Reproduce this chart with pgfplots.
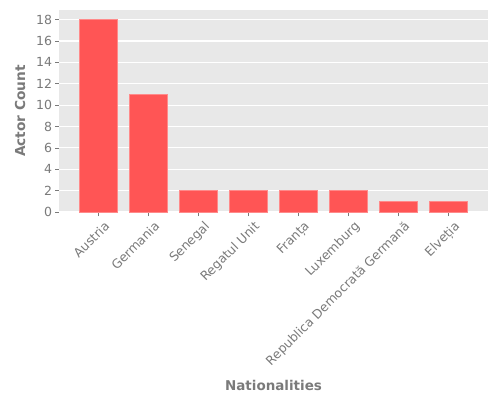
\documentclass[border=0pt]{standalone}
\usepackage{fontspec}
\setmainfont{DejaVu Sans}
\usepackage{pgfplots}
\pgfplotsset{compat=1.18}
\definecolor{bg}{HTML}{E8E8E8}
\definecolor{barc}{HTML}{FF5555}
\definecolor{bare}{HTML}{FF8A8A}
\definecolor{txt}{HTML}{7A7A7A}
\begin{document}
\begin{tikzpicture}
\useasboundingbox (0pt,0pt) rectangle (375pt,300pt);
\begin{axis}[
  at={(44.25pt,141pt)}, anchor=south west,
  scale only axis, width=321.75pt, height=151.5pt,
  xmin=-0.79, xmax=7.79, ymin=0, ymax=18.9,
  axis background/.style={fill=bg},
  axis line style={draw=none},
  ymajorgrids, major grid style={white, line width=0.8pt},
  ytick={0,2,...,18},
  xtick={0,...,7},
  xticklabels={Austria,Germania,Senegal,Regatul Unit,Franța,Luxemburg,Republica Democrată Germană,Elveția},
  tick pos=left, tick align=outside,
  major tick length=3pt,
  tick style={txt, line width=0.5pt},
  /pgf/number format/assume math mode=true,
  ticklabel style={font=\fontsize{9.4}{11}\selectfont, text=txt},
  xticklabel style={rotate=45, anchor=north east, inner sep=1pt, xshift=1.5pt, yshift=-3.75pt},
  yticklabel style={inner sep=2pt},
  xlabel={Nationalities}, ylabel={Actor Count},
  xlabel style={font=\fontsize{10.1}{12}\selectfont\bfseries, text=txt, yshift=-4.5pt},
  ylabel style={font=\fontsize{10.3}{12}\selectfont\bfseries, text=txt, yshift=2.5pt},
]
\addplot[ybar, bar width=0.75, bar shift=0pt, fill=barc, draw=bare, line width=0.6pt]
  coordinates {(0,18) (1,11) (2,2) (3,2) (4,2) (5,2) (6,1) (7,1)};
\end{axis}
\end{tikzpicture}
\end{document}
